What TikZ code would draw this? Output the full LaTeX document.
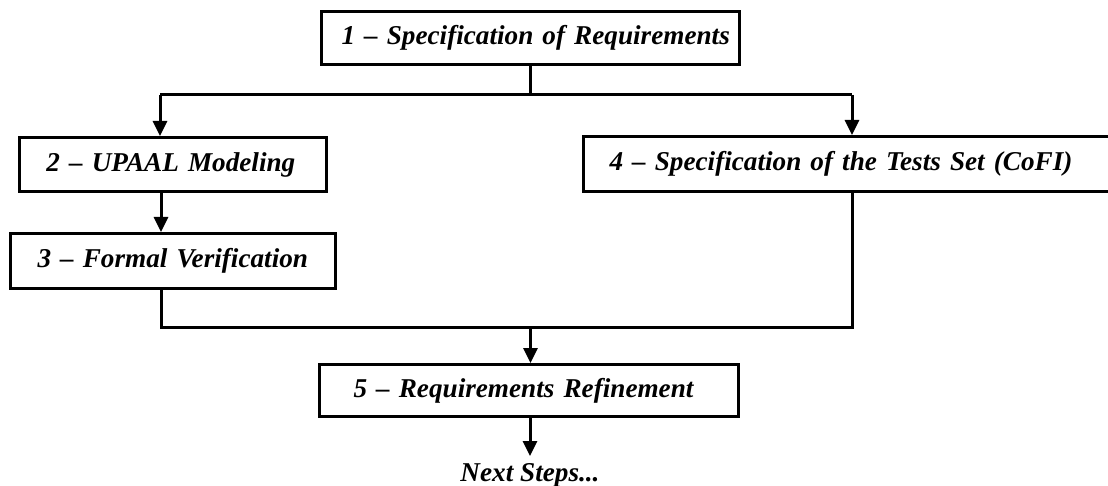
\documentclass[tikz,border=0pt]{standalone}
\usepackage{fontspec}
\setmainfont{Liberation Serif}
\usetikzlibrary{arrows.meta}
\tikzset{
  stepbox/.style={draw, line width=1.5pt, anchor=north west, align=left,
    font=\bfseries\itshape\fontsize{13.6}{16}\selectfont,
    execute at begin node={\leavevmode\hbox\bgroup},
    execute at end node={\egroup}},
  flow/.style={line width=1.5pt},
  flowarrow/.style={flow, -{Triangle[width=7pt,length=7.5pt]}}
}
\begin{document}
\begin{tikzpicture}[x=0.5pt,y=-0.5pt]
                    \useasboundingbox (0,0) rectangle (1108,486);
                    
                    % Drawing boxes
                    \node [stepbox, text width=189pt, inner xsep=10pt, minimum height=26.5pt] (req) at (320,10) {1 – Specification of Requirements};%
                    \node [stepbox, text width=126.5pt, inner xsep=13.5pt, minimum height=27pt] (upaal) at (18,136) {2 – UPAAL Modeling};%
                    \node [stepbox, text width=135.5pt, inner xsep=13.5pt, minimum height=27.5pt] (verif) at (9,232) {3 – Formal Verification};%
                    \node [stepbox, text width=244pt, inner xsep=13pt, minimum height=27.5pt] (tests) at (582,135) {4 – Specification of the Tests Set (CoFI)};%
                    \node [stepbox, text width=175.5pt, inner xsep=17pt, minimum height=26pt] (refine) at (318,363) {5 – Requirements Refinement};%
                    \node [font=\bfseries\itshape\fontsize{13.6}{16}\selectfont, anchor=north, inner xsep=0pt, inner ysep=3.5pt] (next) at (530,456) {Next Steps...};%
                    
                    % Marking split and join points
                    \coordinate (splitL) at (160,95);%
                    \coordinate (splitR) at (852,95);%
                    \coordinate (joinL) at (161,327);%
                    \coordinate (joinR) at (852,327);%
                    
                    % Drawing line 1 to 2 and 4
                    \draw [flow] (req.south) -- (req.south |- splitL);%
                    \draw [flow] (splitL) -- (splitR);%
                    \draw [flowarrow] (splitL) -- (splitL |- upaal.north);%
                    \draw [flowarrow] (splitR) -- (splitR |- tests.north);%
                    
                    % Drawing line 2 to 3
                    \draw [flowarrow] (upaal.south -| joinL) -- (joinL |- verif.north);%
                    
                    % Drawing line 3 and 4 to 5
                    \draw [flow] (verif.south -| joinL) -- (joinL) -- (joinR) -- (tests.south -| joinR);%
                    \draw [flowarrow] (req.south |- joinL) -- (req.south |- refine.north);%
                    
                    % Drawing line 5 to next
                    \draw [flowarrow] (refine.south -| next.north) -- (next.north);%
\end{tikzpicture}
\end{document}
